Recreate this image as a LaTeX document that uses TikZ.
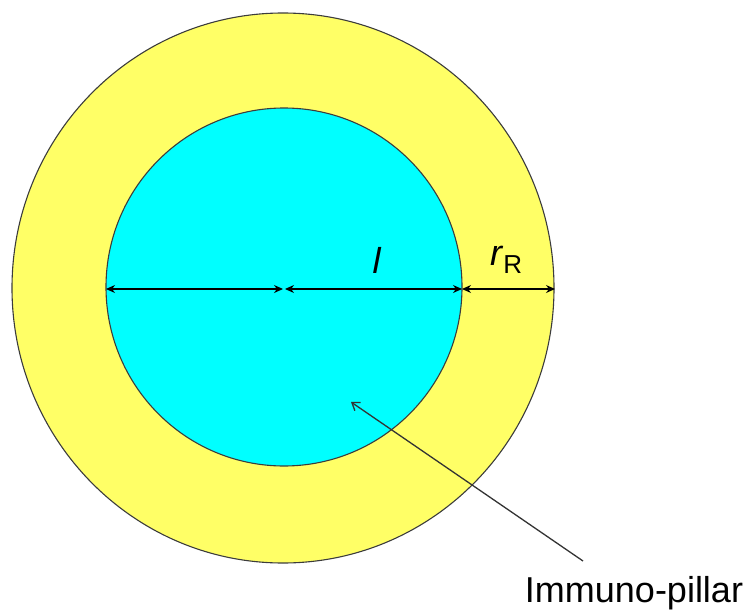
\documentclass[tikz,border=0pt]{standalone}
\usepackage{fontspec}
\setmainfont{Liberation Sans}
\usetikzlibrary{shapes.geometric,arrows.meta}
\definecolor{ringyellow}{RGB}{255,255,102}
\definecolor{pillarcyan}{RGB}{0,255,255}
\definecolor{edgegray}{RGB}{60,60,60}
\tikzset{
  disc/.style={ellipse, draw=edgegray, line width=1.1pt, inner sep=0pt},
  dimarrow/.style={line width=1.3pt, {Stealth[length=9pt,width=8pt]}-{Stealth[length=9pt,width=8pt]}},
  pointer/.style={line width=1.3pt, draw=black!80, -{Straight Barb[length=7pt,width=10pt]}},
  lbl/.style={inner sep=0pt, font=\fontsize{36}{40}\selectfont}
}
\begin{document}
\begin{tikzpicture}[x=1pt,y=-1pt]
\useasboundingbox (0,0) rectangle (755,615);
\node[disc, fill=ringyellow, minimum width=542pt, minimum height=550pt] (outer) at (283,288) {};
\node[disc, fill=pillarcyan, minimum width=356pt, minimum height=358pt] (inner) at (284,287) {};
\coordinate (L) at (106,289);
\coordinate (C) at (284,289);
\coordinate (R) at (462,289);
\coordinate (O) at (555,289);
\draw[dimarrow] (L) -- ([xshift=-1pt]C);
\draw[dimarrow] ([xshift=1pt]C) -- (R);
\draw[dimarrow] (R) -- (O);
\node[lbl, anchor=base] (ell) at (377,273) {\textit{l}};
\node[lbl, anchor=base west] (rr) at (490,265) {\textit{r}\raisebox{-8pt}{\fontsize{26}{28}\selectfont R}};
\node[lbl, anchor=base] (name) at (634,602) {Immuno-pillar};
\coordinate (tip) at (351,402);
\coordinate (tail) at (583,561);
\draw[pointer] (tail) -- (tip);
\end{tikzpicture}
\end{document}
